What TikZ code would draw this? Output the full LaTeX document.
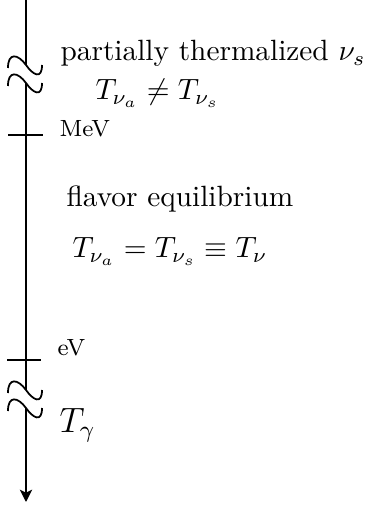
\documentclass[tikz,border=0pt]{standalone}
\usetikzlibrary{arrows.meta}
\begin{document}
\begin{tikzpicture}[x=0.341pt,y=-0.341pt,
  axisline/.style={line width=0.7pt},
  breakline/.style={line width=0.6pt},
  lbl/.style={inner sep=0pt,anchor=base west},
  unitlbl/.style={lbl,font=\footnotesize}]
\useasboundingbox (0,0) rectangle (369,505);
% axis coordinates
\coordinate (top) at (26,0);
\coordinate (b1a) at (26,65);
\coordinate (b1b) at (26,83);
\coordinate (b2a) at (26,390);
\coordinate (b2b) at (26,408);
\coordinate (bot) at (26,502);
\draw[axisline] (top) -- (b1a);
\draw[axisline] (b1b) -- (b2a);
\draw[axisline,-{Stealth[length=4.2pt,width=4.2pt,inset=1pt]}] (b2b) -- (bot);
% break marks
\foreach \dy in {0,18,325,343}{
  \draw[breakline] (8,68+\dy) .. controls (8,52+\dy) and (18,54+\dy) .. (26,65+\dy)
     .. controls (33,75+\dy) and (42,80+\dy) .. (42,65+\dy);
}
% ticks
\coordinate (meVl) at (8,135);
\coordinate (meVr) at (43,135);
\coordinate (eVl) at (7,360);
\coordinate (eVr) at (41,360);
\draw[axisline] (meVl) -- (meVr);
\draw[axisline] (eVl) -- (eVr);
% labels
\node[lbl] (pt) at (60,61) {partially thermalized $\nu_s$};
\node[lbl] (neq) at (95,100) {$T_{\nu_a}\neq T_{\nu_s}$};
\node[unitlbl] (mev) at (59,137) {MeV};
\node[lbl] (fe) at (66,207) {flavor equilibrium};
\node[lbl] (eq) at (72,258) {$T_{\nu_a}=T_{\nu_s}\equiv T_\nu$};
\node[unitlbl] (ev) at (57,355) {eV};
\node[lbl,font=\large] (tg) at (59,432) {$T_\gamma$};
\end{tikzpicture}
\end{document}
